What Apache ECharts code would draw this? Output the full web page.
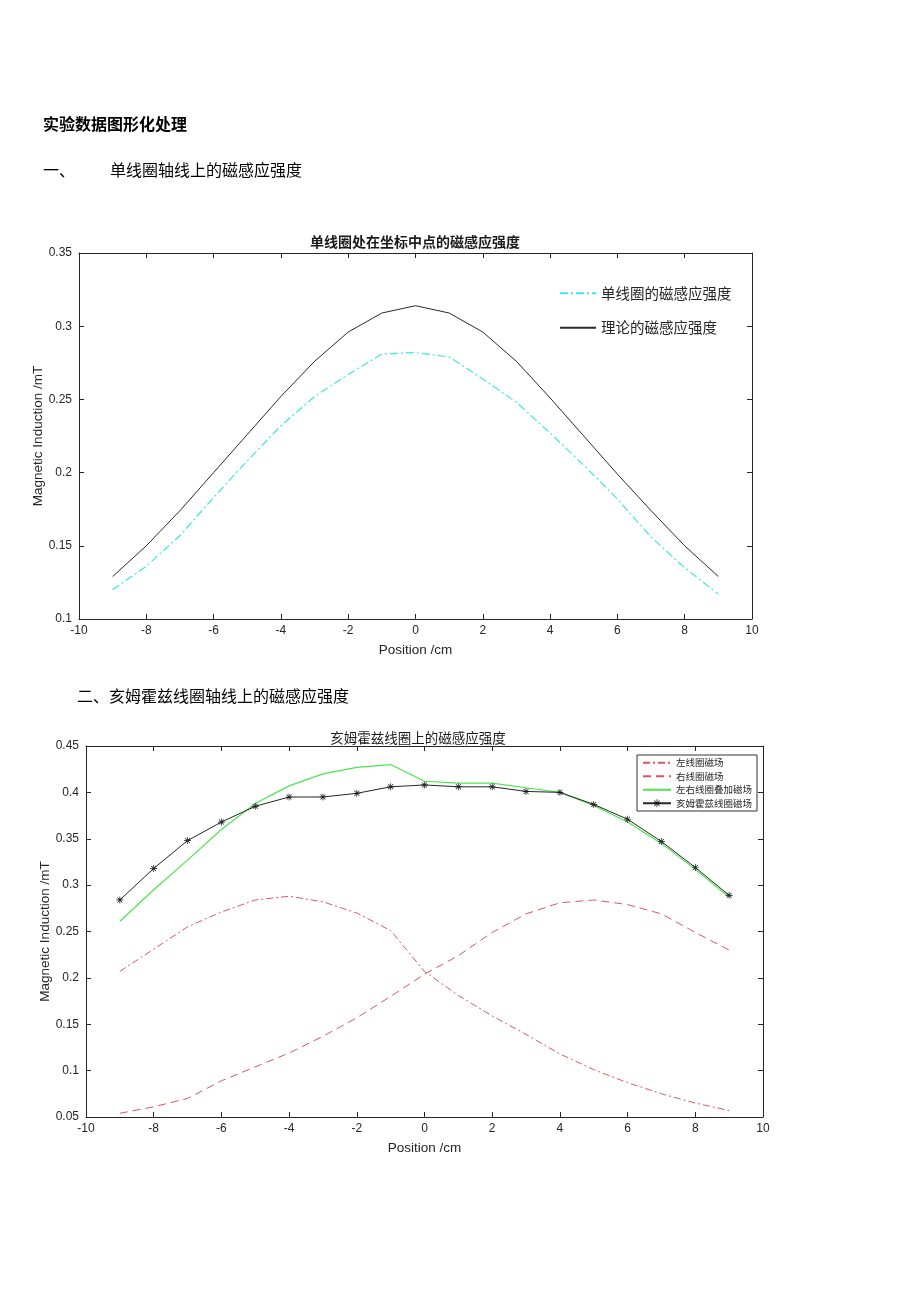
<!DOCTYPE html>
<html>
<head>
<meta charset="utf-8">
<script src="https://cdn.jsdelivr.net/npm/echarts@6/dist/echarts.min.js"></script>
<style>
html,body{margin:0;padding:0;background:#fff;}
#chart{width:920px;height:1302px;}
</style>
</head>
<body>
<div id="chart"></div>
<script>
// ---------- data ----------
const positions = [-9,-8,-7,-6,-5,-4,-3,-2,-1,0,1,2,3,4,5,6,7,8,9];
// chart 1
const singleCoil = [0.120,0.136,0.157,0.183,0.208,0.232,0.252,0.267,0.281,0.282,0.279,0.264,0.248,0.227,0.205,0.182,0.156,0.135,0.117];
const theory     = [0.129,0.150,0.174,0.200,0.226,0.252,0.276,0.296,0.309,0.314,0.309,0.296,0.276,0.251,0.225,0.199,0.174,0.150,0.129];
// chart 2
const leftCoil   = [0.207,0.231,0.255,0.271,0.284,0.288,0.282,0.270,0.251,0.207,0.181,0.159,0.139,0.118,0.101,0.087,0.075,0.065,0.057];
const rightCoil  = [0.054,0.061,0.070,0.089,0.104,0.119,0.137,0.157,0.180,0.204,0.224,0.249,0.269,0.281,0.284,0.279,0.269,0.249,0.230];
const sumCoil    = [0.261,0.295,0.327,0.360,0.388,0.407,0.420,0.427,0.430,0.412,0.410,0.410,0.405,0.400,0.386,0.368,0.345,0.317,0.287];
const helmholtz  = [0.284,0.318,0.348,0.368,0.385,0.395,0.395,0.399,0.406,0.408,0.406,0.406,0.401,0.400,0.387,0.371,0.347,0.319,0.289];

const names1 = ['单线圈的磁感应强度','理论的磁感应强度'];
const names2 = ['左线圈磁场','右线圈磁场','左右线圈叠加磁场','亥姆霍兹线圈磁场'];
const titles = ['单线圈处在坐标中点的磁感应强度','亥姆霍兹线圈上的磁感应强度'];
const xTitle = 'Position /cm';
const yTitle = 'Magnetic Induction /mT';

const pair = arr => positions.map((x,i)=>[x,arr[i]]);

const sans = "'Liberation Sans', Arial, sans-serif";
const cjk = "'Noto Sans CJK SC', sans-serif";
const axisCol = '#262626';
const labelCol = '#262626';

const asterisk = 'path://M-0.5,-5L0.5,-5L0.5,5L-0.5,5Z M-5,-0.5L5,-0.5L5,0.5L-5,0.5Z M-3.146,-3.854L3.854,3.146L3.146,3.854L-3.854,-3.146Z M-3.146,3.854L3.854,-3.146L3.146,-3.854L-3.854,3.146Z';

function xAx(grid, main){
  return {
    type:'value', gridIndex:grid, min:-10, max:10, interval:2,
    position: main ? 'bottom' : 'top',
    name: main ? xTitle : '', nameLocation:'middle', nameGap:24,
    nameTextStyle:{fontFamily:sans,fontSize:13.5,color:labelCol},
    axisLine:{show:true,onZero:false,lineStyle:{color:axisCol,width:1}},
    axisTick:{show:true,inside:true,length:5,lineStyle:{color:axisCol}},
    axisLabel:{show:main,fontFamily:sans,fontSize:12,color:labelCol,margin:6},
    splitLine:{show:false}
  };
}
function yAx(grid, main, min, max){
  return {
    type:'value', gridIndex:grid, min:min, max:max, interval:0.05,
    position: main ? 'left' : 'right',
    name: main ? yTitle : '', nameLocation:'middle', nameGap:34, nameMoveOverlap:false,
    nameTextStyle:{fontFamily:sans,fontSize:13.5,color:labelCol},
    axisLine:{show:true,onZero:false,lineStyle:{color:axisCol,width:1}},
    axisTick:{show:true,inside:true,length:5,lineStyle:{color:axisCol}},
    axisLabel:{show:main,fontFamily:sans,fontSize:12,color:labelCol,margin:7},
    splitLine:{show:false}
  };
}

const hide = {opacity:0};
const chart = echarts.init(document.getElementById('chart'), null, {renderer:'canvas'});
chart.setOption({
  backgroundColor:'#fff',
  animation:false,
  title:[
    {text:titles[0], left:410, top:230, textAlign:'center',
     textStyle:{fontFamily:cjk,fontSize:14,fontWeight:'bold',color:'#1a1a1a'}},
    {text:titles[1], left:413, top:726, textAlign:'center',
     textStyle:{fontFamily:cjk,fontSize:13.5,fontWeight:'normal',color:'#1a1a1a'}}
  ],
  graphic:[
    {type:'text', left:43, top:116, style:{text:'实验数据图形化处理', font:"bold 16px 'Noto Sans CJK SC'", fill:'#000'}},
    {type:'text', left:43, top:162, style:{text:'一、', font:"16px 'Noto Sans CJK SC'", fill:'#000'}},
    {type:'text', left:110, top:162, style:{text:'单线圈轴线上的磁感应强度', font:"16px 'Noto Sans CJK SC'", fill:'#000'}},
    {type:'text', left:77, top:688, style:{text:'二、亥姆霍兹线圈轴线上的磁感应强度', font:"16px 'Noto Sans CJK SC'", fill:'#000'}}
  ],
  grid:[
    {left:79, right:168, top:253, bottom:683, containLabel:false},
    {left:86, right:157, top:746, bottom:185, containLabel:false}
  ],
  xAxis:[xAx(0,true), xAx(0,false), xAx(1,true), xAx(1,false)],
  yAxis:[yAx(0,true,0.1,0.35), yAx(0,false,0.1,0.35), yAx(1,true,0.05,0.45), yAx(1,false,0.05,0.45)],
  legend:[
    {data:names1.map(n=>({name:n, itemStyle:hide})), orient:'vertical', left:554, top:281, itemGap:20, itemWidth:36, itemHeight:12,
     textStyle:{fontFamily:cjk,fontSize:14.5,color:'#262626'}},
    {data:[{name:names2[0],itemStyle:hide},{name:names2[1],itemStyle:hide},{name:names2[2],itemStyle:hide},{name:names2[3]}],
     orient:'vertical', left:637, top:755, itemGap:4, itemWidth:28, itemHeight:9.7,
     padding:[3,5,3,5], borderColor:'#333', borderWidth:1, backgroundColor:'#fff',
     textStyle:{fontFamily:cjk,fontSize:9.5,color:'#262626'}}
  ],
  series:[
    {name:names1[0], type:'line', xAxisIndex:0, yAxisIndex:0, data:pair(singleCoil), symbol:'none',
     lineStyle:{color:'#3fe6e6', width:1.2, type:[8,3,2,3]}, itemStyle:{color:'#3fe6e6'}},
    {name:names1[1], type:'line', xAxisIndex:0, yAxisIndex:0, data:pair(theory), symbol:'none',
     lineStyle:{color:'#2b2b2b', width:1}, itemStyle:{color:'#2b2b2b'}},
    {name:names2[0], type:'line', xAxisIndex:2, yAxisIndex:2, data:pair(leftCoil), symbol:'none',
     lineStyle:{color:'#e3525d', width:1, type:[7,3,2,3]}, itemStyle:{color:'#e3525d'}},
    {name:names2[1], type:'line', xAxisIndex:2, yAxisIndex:2, data:pair(rightCoil), symbol:'none',
     lineStyle:{color:'#e3525d', width:1, type:[8,5]}, itemStyle:{color:'#e3525d'}},
    {name:names2[2], type:'line', xAxisIndex:2, yAxisIndex:2, data:pair(sumCoil), symbol:'none',
     lineStyle:{color:'#4fe34f', width:1.2}, itemStyle:{color:'#4fe34f'}},
    {name:names2[3], type:'line', xAxisIndex:2, yAxisIndex:2, data:pair(helmholtz),
     symbol:asterisk, symbolSize:7, showSymbol:true,
     lineStyle:{color:'#262626', width:1}, itemStyle:{color:'#111'}}
  ]
});
</script>
</body>
</html>
